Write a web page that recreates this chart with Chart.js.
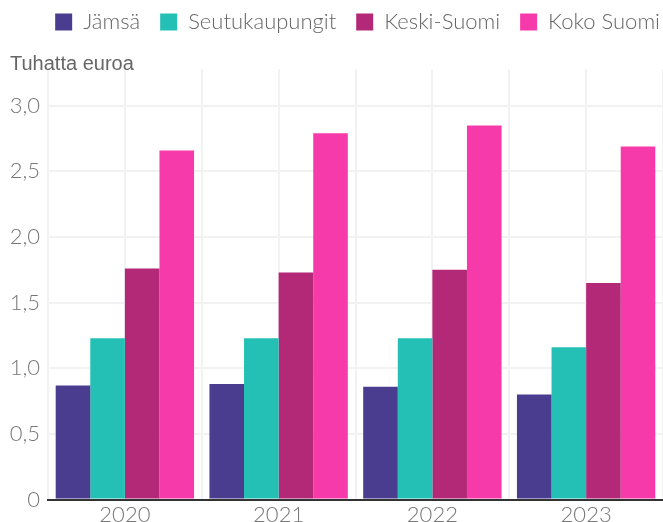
<!DOCTYPE html>
<html>
<head>
<meta charset="utf-8">
<script src="https://cdn.jsdelivr.net/npm/chart.js@4"></script>
<style>
html, body { margin: 0; padding: 0; background: #fff; overflow: hidden; }
#wrap { width: 663px; height: 530px; }
</style>
</head>
<body>
<div id="wrap"><canvas id="myChart"></canvas></div>
<script>
// vuodet ja sarjat (tuhatta euroa)
var vuodet = ["2020", "2021", "2022", "2023"];
var jamsa = [0.87, 0.88, 0.86, 0.80];
var seutukaupungit = [1.23, 1.23, 1.23, 1.16];
var keskiSuomi = [1.76, 1.73, 1.75, 1.65];
var kokoSuomi = [2.66, 2.79, 2.85, 2.69];

var yMax = 3.28;
var yStep = 0.5;

Chart.defaults.font.family = "Lato";
Chart.defaults.font.weight = 300;

// selite lahemmas oikeaa reunaa
var legendShift = {
  id: "legendShift",
  afterLayout: function(chart) {
    chart.legend.right += 17;
  }
};

var ctx = document.getElementById("myChart").getContext("2d");
var myChart = new Chart(ctx, {
  type: "bar",
  data: {
    labels: vuodet,
    datasets: [
      { label: "Jämsä", data: jamsa, backgroundColor: "rgb(74, 61, 143)" },
      { label: "Seutukaupungit", data: seutukaupungit, backgroundColor: "rgb(37, 192, 181)" },
      { label: "Keski-Suomi", data: keskiSuomi, backgroundColor: "rgb(179, 41, 120)" },
      { label: "Koko Suomi", data: kokoSuomi, backgroundColor: "rgb(247, 58, 169)" }
    ]
  },
  plugins: [legendShift],
  options: {
    responsive: true,
    maintainAspectRatio: false,
    animation: false,
    categoryPercentage: 0.9,
    barPercentage: 1.0,
    layout: { padding: { left: 10, right: 0, top: -9, bottom: 0 } },
    plugins: {
      legend: {
        position: "top",
        align: "end",
        weight: 3000,
        labels: {
          boxWidth: 17,
          boxHeight: 17,
          padding: 20,
          color: "#666",
          font: { size: 22, weight: 300 }
        }
      },
      title: {
        display: true,
        text: "Tuhatta euroa",
        align: "start",
        weight: 500,
        color: "#666",
        padding: { top: 11, bottom: -5 },
        font: { family: "Liberation Sans", size: 20, weight: "normal", lineHeight: 1 }
      },
      tooltip: { enabled: false }
    },
    scales: {
      x: {
        grid: { offset: false, color: "#f2f2f2", lineWidth: 2, drawTicks: false },
        border: { display: true, color: "#333", width: 2 },
        ticks: { color: "#777", font: { size: 22, weight: 300 }, padding: 2 }
      },
      x2: {
        type: "category",
        labels: vuodet,
        position: "top",
        offset: true,
        grid: { offset: true, color: "#f2f2f2", lineWidth: 2, drawTicks: false },
        border: { display: false },
        ticks: { display: false }
      },
      y: {
        min: 0,
        max: yMax,
        afterFit: function(axis) { axis.width = 38; },
        grid: { color: "#f2f2f2", lineWidth: 2, drawTicks: false },
        border: { display: false },
        ticks: {
          stepSize: yStep,
          includeBounds: false,
          color: "#777",
          padding: 8,
          font: { size: 22, weight: 300 },
          callback: function(v) {
            if (v === 0) return "0";
            return v.toFixed(1).replace(".", ",");
          }
        }
      }
    }
  }
});
</script>
</body>
</html>
